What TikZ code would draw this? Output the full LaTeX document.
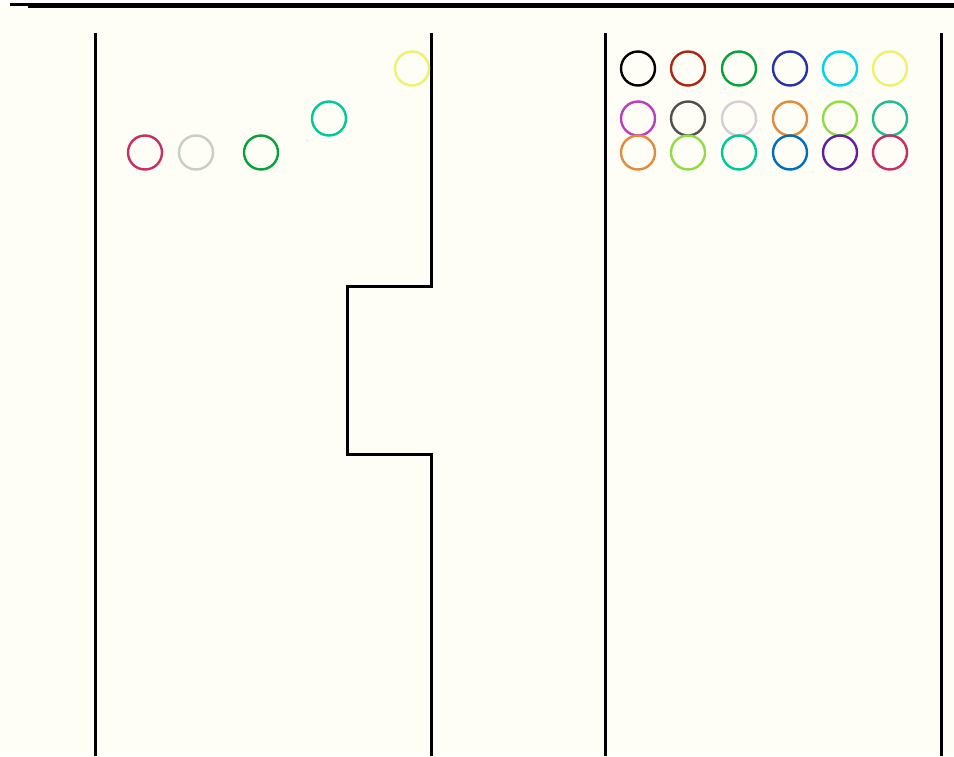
\documentclass[tikz,border=0pt]{standalone}
\definecolor{bgc}{RGB}{254,254,246}
\definecolor{cCrim}{RGB}{200,45,100}
\definecolor{cLgray}{RGB}{200,205,200}
\definecolor{cGreen}{RGB}{10,160,60}
\definecolor{cTeal}{RGB}{0,200,150}
\definecolor{cYellow}{RGB}{240,240,110}
\definecolor{cDred}{RGB}{170,40,20}
\definecolor{cBlue}{RGB}{40,50,170}
\definecolor{cCyan}{RGB}{0,210,240}
\definecolor{cMag}{RGB}{190,60,190}
\definecolor{cDgray}{RGB}{80,80,80}
\definecolor{cLav}{RGB}{215,205,215}
\definecolor{cOrange}{RGB}{225,140,60}
\definecolor{cLgreen}{RGB}{145,220,70}
\definecolor{cTeal2}{RGB}{30,190,145}
\definecolor{cBlue2}{RGB}{0,110,190}
\definecolor{cPurple}{RGB}{100,30,160}
\begin{document}
\begin{tikzpicture}[x=1pt,y=-1pt,
  wall/.style={line width=3pt,black,line join=miter},
  ring/.style={circle,draw=#1,line width=2.4pt,minimum size=34pt,inner sep=0pt}]
\useasboundingbox (0,0) rectangle (954,756);
\fill[bgc] (0,0) rectangle (954,756);
\fill[white] (0,0) rectangle (954,3);
% top bar
\fill[black] (10,3.3) rectangle (954,5.7);
\fill[black] (28,5.7) rectangle (954,8.3);
% walls
\draw[wall] (95.5,33) -- (95.5,756);
\draw[wall] (431.5,33) -- (431.5,286.5) -- (347.5,286.5) -- (347.5,454.5) -- (431.5,454.5) -- (431.5,756);
\draw[wall] (605.5,33) -- (605.5,756);
\draw[wall] (941.5,33) -- (941.5,756);
% left circles
\node[ring=cCrim] (l1) at (145,152.5) {};
\node[ring=cLgray] (l2) at (196,152.5) {};
\node[ring=cGreen] (l3) at (261,152.5) {};
\node[ring=cTeal] (l4) at (329,118.5) {};
\node[ring=cYellow] (l5) at (412,68.5) {};
% right circles row 1
\node[ring=black] (a1) at (638,68.5) {};
\node[ring=cDred] (a2) at (688,68.5) {};
\node[ring=cGreen] (a3) at (739,68.5) {};
\node[ring=cBlue] (a4) at (790,68.5) {};
\node[ring=cCyan] (a5) at (840,68.5) {};
\node[ring=cYellow] (a6) at (890,68.5) {};
% row 2
\node[ring=cMag] (b1) at (638,118.5) {};
\node[ring=cDgray] (b2) at (688,118.5) {};
\node[ring=cLav] (b3) at (739,118.5) {};
\node[ring=cOrange] (b4) at (790,118.5) {};
\node[ring=cLgreen] (b5) at (840,118.5) {};
\node[ring=cTeal2] (b6) at (890,118.5) {};
% row 3
\node[ring=cOrange] (c1) at (638,152.5) {};
\node[ring=cLgreen] (c2) at (688,152.5) {};
\node[ring=cTeal] (c3) at (739,152.5) {};
\node[ring=cBlue2] (c4) at (790,152.5) {};
\node[ring=cPurple] (c5) at (840,152.5) {};
\node[ring=cCrim] (c6) at (890,152.5) {};
\end{tikzpicture}
\end{document}
